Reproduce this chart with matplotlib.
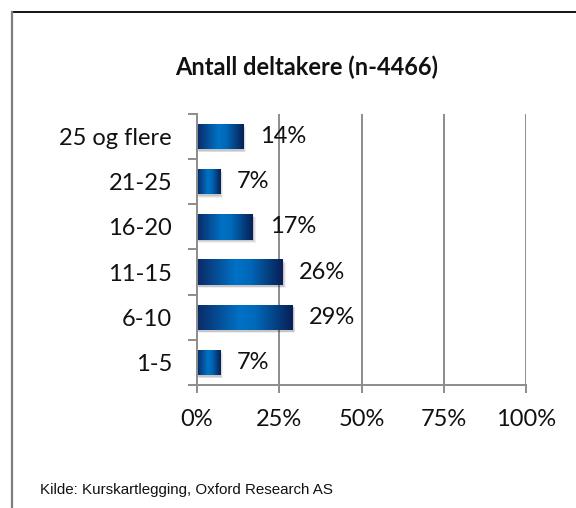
import numpy as np
import matplotlib
matplotlib.use("Agg")
import matplotlib.pyplot as plt
from matplotlib.colors import LinearSegmentedColormap
from matplotlib.patches import Rectangle
from matplotlib.lines import Line2D

categories = ["1-5", "6-10", "11-15", "16-20", "21-25", "25 og flere"]
values = [7, 29, 26, 17, 7, 14]
value_labels = ["7%", "29%", "26%", "17%", "7%", "14%"]
xticks = [0, 25, 50, 75, 100]
xtick_labels = ["0%", "25%", "50%", "75%", "100%"]
title = "Antall deltakere (n-4466)"
source = "Kilde: Kurskartlegging, Oxford Research AS"

W, H = 576, 508
fig = plt.figure(figsize=(W / 100, H / 100), dpi=100)
fig.patch.set_facecolor("white")

ax = fig.add_axes([197 / W, 1 - 385 / H, 329 / W, 271 / H])

grey = "#8c8c8c"
for s in ["top", "right"]:
    ax.spines[s].set_visible(False)
for s in ["left", "bottom"]:
    ax.spines[s].set_color(grey)
    ax.spines[s].set_linewidth(1.4)

# vertical gridlines
for x in xticks[1:]:
    ax.axvline(x, color=grey, lw=1.4, zorder=0)

# cylinder-like horizontal gradient for the bars
cmap = LinearSegmentedColormap.from_list(
    "bar", [(0.0, "#0a2a66"), (0.45, "#0072c6"), (0.62, "#0068b8"), (1.0, "#081f55")]
)
grad = np.linspace(0, 1, 256).reshape(1, -1)

label_font = dict(fontsize=17, family="Lato", color="#111111")

bar_h = 0.56
for i, v in enumerate(values):
    # soft drop shadow
    for k, a in enumerate([0.10, 0.08, 0.06]):
        off = 0.6 + k * 0.35
        sh = Rectangle((off * 0.4, i - bar_h / 2 - 0.04 - k * 0.015), v + off * 0.3,
                       bar_h, facecolor="#000000", alpha=a, edgecolor="none", zorder=1)
        ax.add_patch(sh)
    rect = Rectangle((0, i - bar_h / 2), v, bar_h, facecolor="none", edgecolor="none", zorder=2)
    ax.add_patch(rect)
    im = ax.imshow(grad, cmap=cmap, aspect="auto", extent=(0, v, i - bar_h / 2, i + bar_h / 2),
                   zorder=2, interpolation="bicubic")
    im.set_clip_path(rect)
    ax.annotate(value_labels[i], xy=(v, i), xytext=(12, 0), textcoords="offset points",
                ha="left", va="center", zorder=3, **label_font)

ax.set_xlim(0, 100)
ax.set_ylim(-0.5, len(categories) - 0.5)

# ticks: marks at gridlines / category boundaries, labels centred on categories
ax.set_xticks(xticks)
ax.set_xticklabels(xtick_labels, **label_font)
ax.tick_params(axis="x", which="major", length=6, width=1.4, color=grey, pad=11)

ax.set_yticks(np.arange(-0.5, len(categories), 1.0))
ax.set_yticklabels([])
ax.set_yticks(np.arange(len(categories)), minor=True)
ax.set_yticklabels(categories, minor=True, **label_font)
ax.tick_params(axis="y", which="major", length=6.5, width=1.4, color=grey)
ax.tick_params(axis="y", which="minor", length=0, pad=18)

fig.text(307 / W, 1 - 67 / H, title, ha="center", va="center", fontsize=17,
         fontweight="bold", family="Lato", color="#111111")
fig.text(40 / W, 1 - 490 / H, source, ha="left", va="center", fontsize=10.9,
         family="Liberation Sans", color="#111111")

# chart frame edges
fig.add_artist(Line2D([12 / W, 1], [1 - 12 / H, 1 - 12 / H], color="black", lw=1.3,
                      transform=fig.transFigure))
fig.add_artist(Line2D([12 / W, 12 / W], [0, 1 - 12 / H], color="#7f7f7f", lw=1.6,
                      transform=fig.transFigure))

fig.savefig("out.png", dpi=100)
